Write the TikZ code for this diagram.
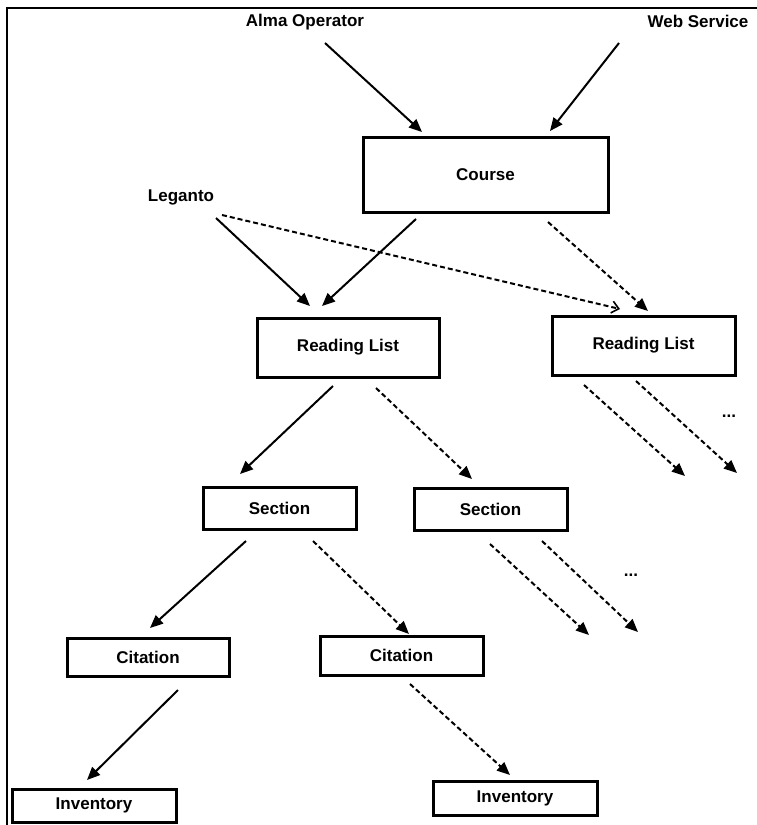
\documentclass[tikz,border=0pt]{standalone}
\usepackage{fontspec}
\setmainfont{Liberation Sans}
\usetikzlibrary{
    arrows.meta,
    positioning,
    calc,
}

\begin{document}
\begin{tikzpicture}[
    x=1pt, y=-1pt,
    every node/.style={font=\fontsize{17}{20}\selectfont\bfseries},
    box/.style={draw, line width=3pt, inner sep=0pt, align=center},
    actor/.style={inner sep=0pt},
    link/.style={line width=2pt, -{Triangle[length=13pt,width=11pt]}},
    maybe/.style={link, dash pattern=on 5pt off 3pt},
    barb/.style={line width=2pt, dash pattern=on 5pt off 3pt, -{Straight Barb[length=7pt,width=12pt,line width=1.6pt]}},
]
\useasboundingbox (0,0) rectangle (757,825);

% frame
\draw[line width=2.4pt] (7,825) -- (7,8) -- (757,8);

% who creates courses
\node[actor] (alma) at (305,22) {Alma Operator};
\node[actor] (web) at (698,21) {Web Service};
\node[actor] (leganto) at (181,197) {Leganto};

\node[box, minimum width=245, minimum height=75] (course) at (485.5,174.5) {Course};

\node[box, minimum width=182, minimum height=59] (rl1) at (348,347.5) {Reading List};
\node[box, minimum width=183, minimum height=59] (rl2) at (643.5,345.5) {Reading List};

\node[box, minimum width=153, minimum height=42] (sec1) at (279.5,508) {Section};
\node[box, minimum width=153, minimum height=42] (sec2) at (490.5,509) {Section};

\node[box, minimum width=162, minimum height=38] (cit1) at (148,657) {Citation};
\node[box, minimum width=163, minimum height=39] (cit2) at (401.5,655.5) {Citation};

\node[box, minimum width=164, minimum height=33] (inv1) at (94,805.5) {Inventory};
\node[box, minimum width=164, minimum height=34] (inv2) at (515,798) {Inventory};

\node[actor] (more1) at (729,416) {...};
\node[actor] (more2) at (631,575) {...};

% loose ends
\coordinate (rlend1) at (685,476);
\coordinate (rlend2) at (737,473);
\coordinate (secend1) at (589,635);
\coordinate (secend2) at (638,632);

\draw[link] ($(alma)+(20,21)$) -- ($(course)+(-63.5,-42.5)$);
\draw[link] ($(web)+(-79,22)$) -- ($(course)+(64.5,-43.5)$);

\draw[link] ($(leganto)+(35,21)$) -- ($(rl1)+(-38,-41.5)$);
\draw[link] ($(course)+(-69.5,44.5)$) -- ($(rl1)+(-26,-41.5)$);
\draw[barb] ($(leganto)+(41,18)$) -- ($(rl2)+(-23.5,-36.5)$);
\draw[maybe] ($(course)+(62.5,47.5)$) -- ($(rl2)+(4.5,-34.5)$);

\draw[link] ($(rl1)+(-15,38.5)$) -- ($(sec1)+(-39.5,-34)$);
\draw[maybe] ($(rl1)+(28,40.5)$) -- ($(sec2)+(-18.5,-30)$);
\draw[maybe] ($(rl2)+(-59.5,39.5)$) -- (rlend1);
\draw[maybe] ($(rl2)+(-7.5,35.5)$) -- (rlend2);

\draw[link] ($(sec1)+(-33.5,33)$) -- ($(cit1)+(2,-29)$);
\draw[maybe] ($(sec1)+(33.5,33)$) -- ($(cit2)+(7.5,-21.5)$);
\draw[maybe] ($(sec2)+(-0.5,35)$) -- (secend1);
\draw[maybe] ($(sec2)+(51.5,32)$) -- (secend2);

\draw[link] ($(cit1)+(30,33)$) -- ($(inv1)+(-7,-25.5)$);
\draw[maybe] ($(cit2)+(8.5,28.5)$) -- ($(inv2)+(-5,-23)$);

\end{tikzpicture}
\end{document}
